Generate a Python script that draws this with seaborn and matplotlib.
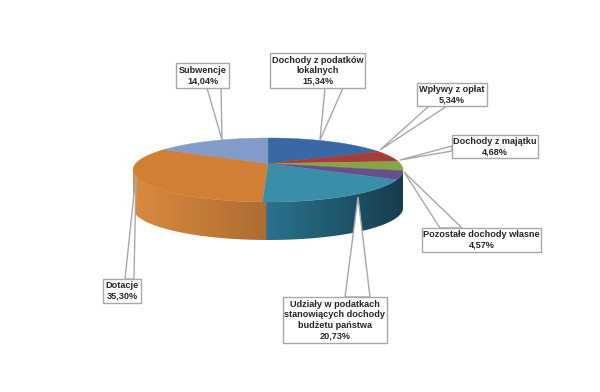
import numpy as np
import matplotlib
matplotlib.use('Agg')
import matplotlib.pyplot as plt
import matplotlib.colors as mcolors
from matplotlib.patches import Polygon, Rectangle
import seaborn as sns

# dane z wykresu
categories = ['Dochody z podatków\nlokalnych', 'Wpływy z opłat', 'Dochody z majątku',
              'Pozostałe dochody własne',
              'Udziały w podatkach\nstanowiących dochody\nbudżetu państwa',
              'Dotacje', 'Subwencje']
values = [15.34, 5.34, 4.68, 4.57, 20.73, 35.30, 14.04]
top_colors = ['#3a68a4', '#a83c3a', '#88a546', '#664f8c', '#3a8ea8', '#d27f36', '#839bc8']
wall_left = ['#3a68a4', '#a83c3a', '#88a546', '#173f50', '#2b7590', '#d98a3e', '#839bc8']
wall_right = ['#3a68a4', '#a83c3a', '#88a546', '#143a4a', '#173f50', '#ae6c33', '#839bc8']

# uklad w pikselach
W, H = 600, 392
CX, CY, RX, RY, DEPTH = 268, 170, 135, 32, 38
APEX = 6.5  # wierzcholek lezy wyzej niz srodek elipsy (perspektywa)

# (lewo, gora, prawo, dol) ramki i trojkat odnosnika
boxes = [(270, 53, 365, 88), (417, 83, 487, 106), (452, 135, 538, 158), (422, 228, 541, 252),
         (283, 297, 387, 343), (103, 279, 141, 303), (176, 63, 229, 88)]
callouts = [[(325, 88), (343, 88), (320, 140)],
            [(429, 106), (447, 106), (380, 150)],
            [(452, 146), (452, 151), (400, 160)],
            [(440, 228), (462, 228), (404, 172)],
            [(345, 297), (370, 297), (358, 197)],
            [(125, 279), (134, 279), (136, 175)],
            [(207, 88), (221, 88), (222, 140)]]

sns.set_theme(style='white')
plt.rcParams['font.family'] = ['Liberation Sans', 'DejaVu Sans']

fig = plt.figure(figsize=(W / 100, H / 100), dpi=100, facecolor='white')
ax = fig.add_axes([0, 0, 1, 1])

edges = np.cumsum([0] + values) / sum(values) * 2 * np.pi

# sciana boczna, kolejne kawalki zachodza na siebie zeby nie bylo szpary
for i in range(len(values)):
    t0, t1 = max(edges[i], np.pi / 2), min(edges[i + 1], 3 * np.pi / 2)
    if t1 <= t0:
        continue
    ts = np.linspace(t0 - 0.03, t1, 80)
    x, y = np.sin(ts), np.cos(ts)
    outline = np.r_[np.c_[x, y], np.c_[x, y - DEPTH / RY][::-1]]
    clip = Polygon(outline, closed=True, transform=ax.transData, fc='none', ec='none')
    ax.add_patch(clip)
    cl = np.array(mcolors.to_rgb(wall_left[i]))
    cr = np.array(mcolors.to_rgb(wall_right[i]))
    grad = np.linspace(cl, cr, 128)[None, :, :]
    im = ax.imshow(grad, extent=[x.min(), x.max(), y.min() - DEPTH / RY, y.max()],
                   aspect='auto', interpolation='bilinear', zorder=1 + i * 0.01)
    im.set_clip_path(clip)

# gorna powierzchnia
palette = sns.color_palette(top_colors)
for i in range(len(values)):
    ts = np.linspace(edges[i], edges[i + 1], 60)
    xs = np.r_[0, np.sin(ts)]
    ys = np.r_[APEX / RY, np.cos(ts)]
    ax.fill(xs, ys, color=palette[i], linewidth=0.3, zorder=2)

ax.set_aspect('auto')
ax.set_xlim(-CX / RX, (W - CX) / RX)
ax.set_ylim((CY - H) / RY, CY / RY)
ax.axis('off')

# warstwa opisow w pikselach
lab = fig.add_axes([0, 0, 1, 1], zorder=3)
lab.patch.set_alpha(0)
lab.set_xlim(0, W)
lab.set_ylim(H, 0)
lab.axis('off')
edge = '#a8a8a8'
for name, val, box, tri in zip(categories, values, boxes, callouts):
    lab.add_patch(Polygon(tri, closed=True, fc='white', ec=edge, lw=1, zorder=1))
    l, t, r, b = box
    lab.add_patch(Rectangle((l + 1, t + 1), r - l, b - t, fc='#dddddd', ec='none', zorder=2))
    lab.add_patch(Rectangle((l, t), r - l, b - t, fc='white', ec=edge, lw=1, zorder=3))
    txt = name + '\n' + f'{val:.2f}%'.replace('.', ',')
    lab.text((l + r) / 2, (t + b) / 2, txt, ha='center', va='center', fontsize=6.6,
             fontweight='bold', color='#262626', linespacing=1.2, zorder=4)

fig.savefig('out.png', dpi=100)
